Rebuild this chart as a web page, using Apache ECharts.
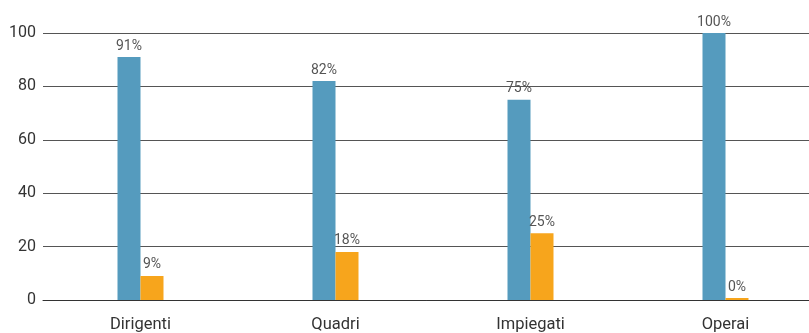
<!DOCTYPE html>
<html><head><meta charset="utf-8">
<script src="https://cdn.jsdelivr.net/npm/echarts@6/dist/echarts.min.js"></script>
<style>html,body{margin:0;padding:0;background:#fff}#c{width:809px;height:333px}</style>
</head><body><div id="c"></div>
<script>
const categories = ['Dirigenti', 'Quadri', 'Impiegati', 'Operai'];
const blueValues = [91, 82, 75, 100];
const orangeValues = [9, 18, 25, 0];
const yTicks = [0, 20, 40, 60, 80, 100];

const chart = echarts.init(document.getElementById('c'));
const labelStyle = {show: true, position: 'top', formatter: '{c}%', color: '#555', fontSize: 14, fontFamily: 'Roboto', distance: 4};
chart.setOption({
  animation: false,
  grid: {left: 43, top: 33, width: 780, height: 267, containLabel: false, outerBoundsMode: 'none'},
  xAxis: {
    type: 'category', data: categories,
    axisLine: {show: true, lineStyle: {color: '#333', width: 1}},
    axisTick: {show: false},
    axisLabel: {color: '#333', fontSize: 16.5, fontFamily: 'Roboto', margin: 16}
  },
  yAxis: {
    type: 'value', min: yTicks[0], max: yTicks[yTicks.length - 1], interval: 20,
    axisLine: {show: false}, axisTick: {show: false},
    axisLabel: {color: '#333', fontSize: 16, fontFamily: 'Roboto', margin: 7},
    splitLine: {lineStyle: {color: '#555', width: 1.2}}
  },
  series: [
    {type: 'bar', data: blueValues, barWidth: 23, barGap: '0%', itemStyle: {color: '#559BBE'}, label: labelStyle},
    {type: 'bar', data: orangeValues, barWidth: 23, barMinHeight: 2, itemStyle: {color: '#F7A51C'}, label: labelStyle}
  ]
});
</script></body></html>
